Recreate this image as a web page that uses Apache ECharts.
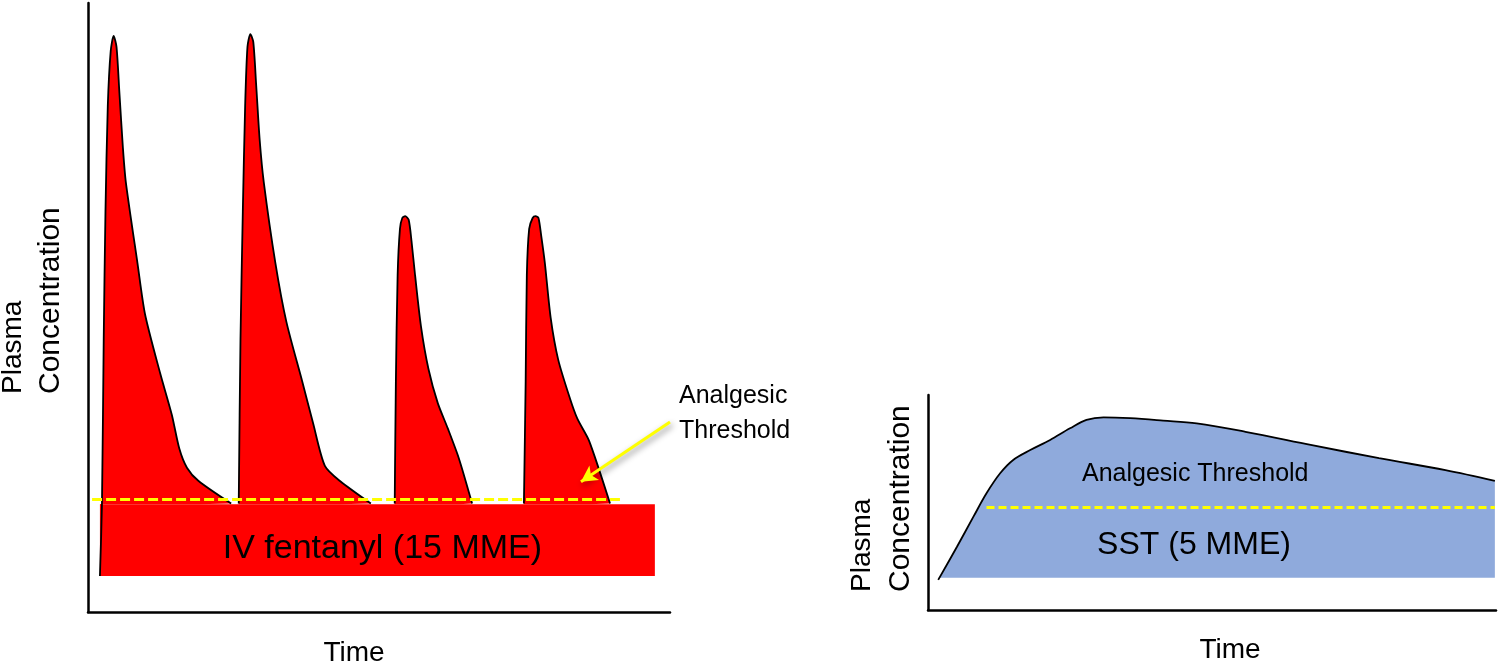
<!DOCTYPE html>
<html>

  <head>
    <meta charset="utf-8" />
    <script src="https://cdn.jsdelivr.net/npm/echarts@6.0.0/dist/echarts.min.js"></script>
    <style>
      html, body { margin: 0; padding: 0; background: #fff; }
    </style>
  </head>

  <body>
    <div id="main" style="width: 1512px;height:664px;"></div>
    <script type="text/javascript">
      // IV fentanyl doses: [time, plasma concentration] (arbitrary units, 0-100)
      var peak1 = [[2.05, 5.9], [2.4, 17.8], [2.7, 44.8], [3.0, 65.7], [3.4, 83.1], [3.9, 92.1], [4.4, 94.6], [4.9, 92.8], [5.4, 85.2], [6.0, 76.2], [6.5, 70.6], [8.5, 57.3], [9.8, 48.9], [12.4, 39.2], [14.4, 32.4], [15.7, 26.8], [17.0, 23.7], [19.0, 21.5], [24.6, 17.8]];
      var peak2 = [[25.9, 17.8], [26.2, 44.8], [26.6, 65.7], [27.0, 83.1], [27.4, 92.8], [27.9, 94.9], [28.4, 93.6], [28.9, 86.5], [29.5, 77.5], [30.2, 70.6], [32.2, 57.3], [34.1, 47.6], [36.8, 37.9], [38.7, 30.9], [40.7, 24.0], [43.3, 21.5], [48.6, 17.8]];
      var peak3 = [[52.7, 17.8], [52.9, 37.9], [53.2, 55.3], [53.6, 62.9], [54.0, 64.7], [54.5, 65.0], [55.1, 64.4], [55.6, 60.8], [56.2, 55.3], [57.2, 47.0], [58.5, 39.9], [60.1, 34.3], [61.8, 30.2], [63.7, 25.3], [66.0, 17.8]];
      var peak4 = [[74.9, 17.8], [75.2, 37.9], [75.4, 55.3], [75.8, 62.9], [76.4, 64.7], [76.9, 65.0], [77.4, 64.7], [77.9, 61.6], [78.5, 57.3], [79.5, 48.3], [80.8, 41.4], [82.8, 35.1], [84.1, 31.7], [86.1, 28.1], [89.7, 17.8]];
      // baseline block under the IV peaks: [start time, bottom], [end time, top]
      var ivBlock = [[2.06, 5.9], [97.4, 17.7]];
      var ivThreshold = 18.5;
      var ivThresholdSpan = [0.7, 91.4];
      var ivArrow = [[100, 31.2], [84.7, 21.4]];

      // SST dose curve
      var sstCurve = [[1.8, 14.0], [5.1, 29.4], [8.0, 43.4], [10.3, 54.3], [12.7, 63.6], [15.0, 69.8], [18.0, 74.4], [21.5, 79.1], [25.0, 84.5], [27.9, 88.4], [30.9, 89.6], [35.6, 89.2], [41.4, 88.1], [47.3, 86.8], [55.9, 82.9], [67.6, 76.7], [79.4, 70.6], [91.1, 65.1], [99.8, 60.1]];
      var sstBase = 15.0;
      var sstThreshold = 48.0;
      var sstThresholdSpan = [10.3, 99.8];

      var FONT = 'Liberation Sans, Arial, sans-serif';
      var yellow = '#ffff00';

      function plainAxis(gridIndex) {
        return {
          type: 'value',
          gridIndex: gridIndex,
          min: 0,
          max: 100,
          axisLine: { show: true, lineStyle: { color: '#000', width: 2.5 } },
          axisTick: { show: false },
          axisLabel: { show: false },
          splitLine: { show: false }
        };
      }

      function peakSeries(data, extra) {
        var s = {
          type: 'line',
          xAxisIndex: 0,
          yAxisIndex: 0,
          data: data,
          smooth: 0.25,
          showSymbol: false,
          symbol: 'none',
          silent: true,
          lineStyle: { color: '#000', width: 1.8 },
          areaStyle: { color: '#ff0000', opacity: 1, origin: ivBlock[1][1] }
        };
        for (var k in extra) s[k] = extra[k];
        return s;
      }

      function label(x, y, text, size, opts) {
        var style = { text: text, font: size + 'px ' + FONT, fill: '#000', align: 'left', verticalAlign: 'middle' };
        var el = { type: 'text', x: x, y: y, z: 100, silent: true, style: style };
        for (var k in opts) {
          if (k === 'rotation') el.rotation = opts[k];
          else style[k] = opts[k];
        }
        return el;
      }

      var myChart = echarts.init(document.getElementById('main'));
      var option = {
        animation: false,
        backgroundColor: '#fff',
        grid: [
          { left: 88, top: 3, width: 582, height: 609 },
          { left: 928, top: 395, width: 568, height: 215 }
        ],
        xAxis: [plainAxis(0), plainAxis(1)],
        yAxis: [plainAxis(0), plainAxis(1)],
        series: [
          peakSeries(peak1, {
            markArea: {
              silent: true,
              itemStyle: { color: '#ff0000', opacity: 1 },
              label: {
                show: true, position: 'inside', offset: [5, 8],
                color: '#000', fontSize: 34, fontFamily: FONT
              },
              data: [[
                { name: 'IV fentanyl (15 MME)', coord: ivBlock[0] },
                { coord: ivBlock[1] }
              ]]
            },
            markLine: {
              silent: true,
              symbol: 'none',
              label: { show: false },
              lineStyle: { color: yellow, width: 3, type: [10, 4] },
              data: [[
                { coord: [ivThresholdSpan[0], ivThreshold] },
                { coord: [ivThresholdSpan[1], ivThreshold] }
              ]]
            }
          }),
          peakSeries(peak2, {}),
          peakSeries(peak3, {}),
          peakSeries(peak4, {
            markLine: {
              silent: true,
              symbol: ['none', 'arrow'],
              symbolSize: [13, 16],
              label: { show: false },
              lineStyle: {
                color: yellow, width: 3, type: 'solid',
                shadowColor: 'rgba(0,0,0,0.45)', shadowBlur: 6, shadowOffsetX: 2, shadowOffsetY: 3
              },
              data: [[
                { coord: ivArrow[0] },
                { coord: ivArrow[1] }
              ]]
            }
          }),
          {
            type: 'line',
            xAxisIndex: 1,
            yAxisIndex: 1,
            data: sstCurve,
            smooth: 0.35,
            showSymbol: false,
            symbol: 'none',
            silent: true,
            lineStyle: { color: '#000', width: 1.8 },
            areaStyle: { color: '#8faadc', opacity: 1, origin: sstBase },
            markLine: {
              silent: true,
              symbol: 'none',
              label: { show: false },
              lineStyle: { color: yellow, width: 3, type: [8, 4] },
              data: [[
                { coord: [sstThresholdSpan[0], sstThreshold] },
                { coord: [sstThresholdSpan[1], sstThreshold] }
              ]]
            }
          }
        ],
        graphic: [
          // left panel
          label(13, 394, 'Plasma', 28, { rotation: Math.PI / 2 }),
          label(51, 394, 'Concentration', 30, { rotation: Math.PI / 2 }),
          label(354, 653, 'Time', 28, { align: 'center' }),
          label(679, 379, 'Analgesic\nThreshold', 25, { lineHeight: 35, verticalAlign: 'top' }),
          // right panel
          label(862, 592, 'Plasma', 28, { rotation: Math.PI / 2 }),
          label(901, 592, 'Concentration', 30, { rotation: Math.PI / 2 }),
          label(1230, 650, 'Time', 28, { align: 'center' }),
          label(1082, 474, 'Analgesic Threshold', 25, {}),
          label(1194, 545, 'SST (5 MME)', 32, { align: 'center' })
        ]
      };
      myChart.setOption(option);
    </script>
  </body>

</html>
